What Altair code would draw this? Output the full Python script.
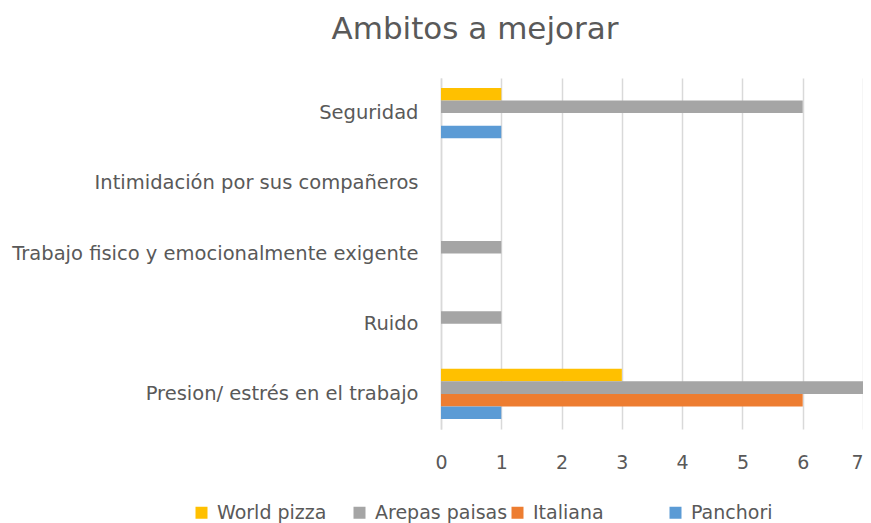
import altair as alt
import pandas as pd

categories = [
    "Seguridad",
    "Intimidación por sus compañeros",
    "Trabajo fisico y emocionalmente exigente",
    "Ruido",
    "Presion/ estrés en el trabajo",
]
series = ["World pizza", "Arepas paisas", "Italiana", "Panchori"]
world_pizza = [1, 0, 0, 0, 3]
arepas_paisas = [6, 0, 1, 1, 7]
italiana = [0, 0, 0, 0, 6]
panchori = [1, 0, 0, 0, 1]
colors = ["#FFC000", "#A5A5A5", "#ED7D31", "#5B9BD5"]
x_ticks = [0, 1, 2, 3, 4, 5, 6, 7]

rows = []
for s, vals in zip(series, [world_pizza, arepas_paisas, italiana, panchori]):
    for c, v in zip(categories, vals):
        rows.append({"Ambito": c, "Serie": s, "Valor": v})
df = pd.DataFrame(rows)

FONT = "DejaVu Sans"
TXT = "#595959"

chart = alt.Chart(df).mark_bar().encode(
    y=alt.Y("Ambito:N", sort=categories,
            scale=alt.Scale(paddingInner=0.285, paddingOuter=0.1425),
            axis=alt.Axis(title=None, ticks=False, domain=True, domainColor="#D9D9D9",
                          domainWidth=1.5,
                          labelFont=FONT, labelFontSize=19.5, labelColor=TXT,
                          labelPadding=23, labelLimit=500)),
    yOffset=alt.YOffset("Serie:N", sort=series, scale=alt.Scale(domain=series, paddingInner=0, paddingOuter=0)),
    x=alt.X("Valor:Q", scale=alt.Scale(domain=[0, 7], nice=False),
            axis=alt.Axis(title=None, values=x_ticks, ticks=False, domain=False,
                          grid=True, gridColor="#D9D9D9", gridWidth=1.5,
                          labelFont=FONT, labelFontSize=19, labelColor=TXT,
                          labelPadding=24, labelFlush=False, format="d",
                          labelAlign={"condition": {"test": "datum.value == 7", "value": "right"},
                                      "value": "center"})),
    color=alt.Color("Serie:N", sort=series,
                    scale=alt.Scale(domain=series, range=colors),
                    legend=alt.Legend(title=None, orient="none", direction="horizontal",
                                      legendX=-249, legendY=425, symbolType="square",
                                      symbolSize=144, symbolStrokeWidth=0,
                                      labelFont=FONT, labelFontSize=19, labelColor=TXT,
                                      columns=4, gridAlign="all", columnPadding=-11,
                                      labelOffset=6)),
).properties(
    width=422,
    height=351,
    title=alt.TitleParams("Ambitos a mejorar", font=FONT, fontSize=31, fontWeight="normal",
                          color=TXT, anchor="middle", dx=-177, offset=32),
    autosize=alt.AutoSizeParams(type="none"),
    padding={"left": 433, "top": 70, "right": 0, "bottom": 94},
).configure_view(stroke=None)

chart.save("out.html", embed_options={"renderer": "svg", "actions": False})
